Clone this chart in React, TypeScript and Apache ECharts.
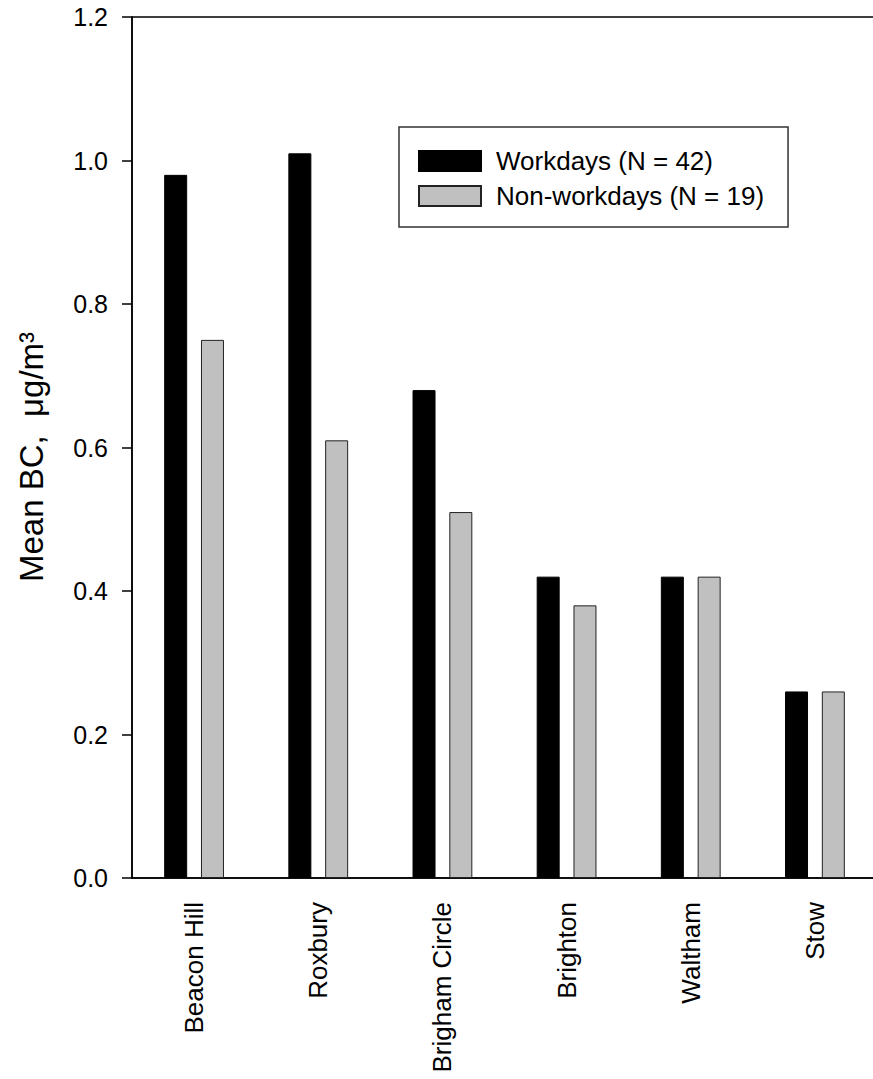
import React, { useEffect, useRef } from "react";
import * as echarts from "echarts";

const categories = ["Beacon Hill", "Roxbury", "Brigham Circle", "Brighton", "Waltham", "Stow"];
const workdays = [0.98, 1.01, 0.68, 0.42, 0.42, 0.26];
const nonWorkdays = [0.75, 0.61, 0.51, 0.38, 0.42, 0.26];
const seriesNames = ["Workdays (N = 42)", "Non-workdays (N = 19)"];
const yTitle = "Mean BC,  μg/m³";

const FONT = "'Liberation Sans', Arial, Helvetica, sans-serif";

export default function App() {
  const ref = useRef<HTMLDivElement>(null);
  useEffect(() => {
    if (!ref.current) return;
    document.body.style.overflow = "hidden";
    const chart = echarts.init(ref.current, undefined, { renderer: "svg" });
    chart.setOption({
      animation: false,
      backgroundColor: "#fff",
      textStyle: { fontFamily: FONT, color: "#000" },
      grid: {
        left: 132,
        top: 17,
        width: 745,
        height: 861,
        show: true,
        borderColor: "#000",
        borderWidth: 1.5,
        backgroundColor: "transparent",
      },
      legend: {
        orient: "vertical",
        left: 399,
        top: 127,
        data: seriesNames,
        icon: "rect",
        itemWidth: 62,
        itemHeight: 20,
        itemGap: 9,
        padding: [21, 24, 18, 19],
        borderColor: "#333",
        borderWidth: 1.5,
        textStyle: {
          fontFamily: FONT,
          fontSize: 26,
          lineHeight: 26,
          color: "#000",
          padding: [0, 0, 0, 10],
        },
      },
      graphic: [
        {
          type: "text",
          x: 31,
          y: 457,
          rotation: Math.PI / 2,
          style: {
            text: yTitle,
            fontFamily: FONT,
            fontSize: 33,
            fill: "#000",
            align: "center",
            verticalAlign: "middle",
          },
        },
      ],
      xAxis: {
        type: "category",
        data: categories,
        axisLine: { lineStyle: { color: "#000", width: 1.5 } },
        axisTick: { alignWithLabel: true, length: 10, lineStyle: { color: "#000", width: 1.5 } },
        axisLabel: {
          rotate: 90,
          margin: 24,
          fontSize: 26,
          fontFamily: FONT,
          color: "#000",
        },
      },
      yAxis: {
        type: "value",
        min: 0,
        max: 1.2,
        interval: 0.2,
        splitLine: { show: false },
        axisLine: { show: true, lineStyle: { color: "#000", width: 1.5 } },
        axisTick: { show: true, length: 10, lineStyle: { color: "#000", width: 1.5 } },
        axisLabel: {
          margin: 24,
          fontSize: 25,
          fontFamily: FONT,
          color: "#000",
          formatter: (v: number) => v.toFixed(1),
        },
      },
      series: [
        {
          name: seriesNames[0],
          type: "bar",
          data: workdays,
          barWidth: 23,
          barGap: "60%",
          itemStyle: { color: "#000", borderColor: "#000", borderWidth: 1 },
        },
        {
          name: seriesNames[1],
          type: "bar",
          data: nonWorkdays,
          barWidth: 23,
          barGap: "60%",
          itemStyle: { color: "#c0c0c0", borderColor: "#222", borderWidth: 1 },
        },
      ],
    });
    return () => chart.dispose();
  }, []);
  return (
    <div
      ref={ref}
      style={{ position: "fixed", left: 0, top: 0, width: 900, height: 1079, background: "#fff" }}
    />
  );
}
